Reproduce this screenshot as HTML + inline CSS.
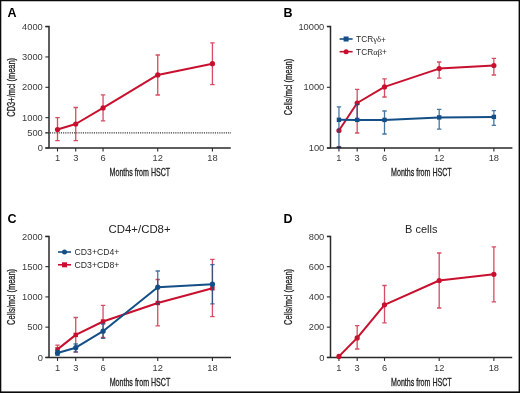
<!DOCTYPE html>
<html><head><meta charset="utf-8"><style>
html,body{margin:0;padding:0;background:#fff;}
svg{display:block;will-change:transform;}
text{font-family:"Liberation Sans",sans-serif;fill:#222;}
.pl{font-size:12.5px;font-weight:bold;fill:#000;}
.tk{font-size:9.3px;fill:#3a3a3a;}
.ttl{font-size:10.4px;stroke:#222;stroke-width:0.3px;}
.lg{font-size:8.7px;fill:#2a2a2a;}
.lg2{font-size:8.3px;fill:#2a2a2a;}
.gk{font-family:"Liberation Serif",serif;font-size:8.6px;}
.ct{font-size:11px;}
</style></head><body>
<svg width="520" height="393" viewBox="0 0 520 393">
<rect x="0" y="0" width="520" height="393" fill="#fff"/>
<rect x="0" y="0" width="1.3" height="393" fill="#0a0a0a"/>
<rect x="0" y="0" width="520" height="1.25" fill="#0a0a0a"/>
<rect x="518.6" y="0" width="1.4" height="393" fill="#0a0a0a"/>
<rect x="0" y="391.4" width="520" height="1.6" fill="#0a0a0a"/>
<text x="7.5" y="16.8" class="pl">A</text>
<path d="M45.4,26.6 H49.0 V148.0 M45.4,148.0 H230.8" fill="none" stroke="#2a2a2a" stroke-width="1.5"/>
<line x1="45.4" y1="26.6" x2="49.0" y2="26.6" stroke="#2a2a2a" stroke-width="1.1"/>
<text x="42.8" y="29.70" text-anchor="end" class="tk">4000</text>
<line x1="45.4" y1="56.95" x2="49.0" y2="56.95" stroke="#2a2a2a" stroke-width="1.1"/>
<text x="42.8" y="60.05" text-anchor="end" class="tk">3000</text>
<line x1="45.4" y1="87.3" x2="49.0" y2="87.3" stroke="#2a2a2a" stroke-width="1.1"/>
<text x="42.8" y="90.40" text-anchor="end" class="tk">2000</text>
<line x1="45.4" y1="117.65" x2="49.0" y2="117.65" stroke="#2a2a2a" stroke-width="1.1"/>
<text x="42.8" y="120.75" text-anchor="end" class="tk">1000</text>
<line x1="45.4" y1="132.82" x2="49.0" y2="132.82" stroke="#2a2a2a" stroke-width="1.1"/>
<text x="42.8" y="135.92" text-anchor="end" class="tk">500</text>
<line x1="45.4" y1="148.0" x2="49.0" y2="148.0" stroke="#2a2a2a" stroke-width="1.1"/>
<text x="42.8" y="151.10" text-anchor="end" class="tk">0</text>
<line x1="57.50" y1="148.0" x2="57.50" y2="151.5" stroke="#2a2a2a" stroke-width="1.1"/>
<text x="57.50" y="161.30" text-anchor="middle" class="tk">1</text>
<line x1="75.73" y1="148.0" x2="75.73" y2="151.5" stroke="#2a2a2a" stroke-width="1.1"/>
<text x="75.73" y="161.30" text-anchor="middle" class="tk">3</text>
<line x1="103.06" y1="148.0" x2="103.06" y2="151.5" stroke="#2a2a2a" stroke-width="1.1"/>
<text x="103.06" y="161.30" text-anchor="middle" class="tk">6</text>
<line x1="157.74" y1="148.0" x2="157.74" y2="151.5" stroke="#2a2a2a" stroke-width="1.1"/>
<text x="157.74" y="161.30" text-anchor="middle" class="tk">12</text>
<line x1="212.42" y1="148.0" x2="212.42" y2="151.5" stroke="#2a2a2a" stroke-width="1.1"/>
<text x="212.42" y="161.30" text-anchor="middle" class="tk">18</text>
<text x="109.6" y="175.6" textLength="60.6" lengthAdjust="spacingAndGlyphs" class="ttl">Months from HSCT</text>
<line x1="45.5" y1="132.8" x2="231" y2="132.8" stroke="#333" stroke-width="1.2" stroke-dasharray="1.1 1.1"/>
<text transform="translate(15.1,87.3) rotate(-90)" x="-29.4" y="0" textLength="58.8" lengthAdjust="spacingAndGlyphs" class="ttl">CD3+/mcl (mean)</text>
<path d="M57.50,129.5 V117.7 M55.30,117.7 H59.70" fill="none" stroke="rgba(200,16,46,0.75)" stroke-width="1.3"/>
<path d="M57.50,129.5 V140.7 M55.30,140.7 H59.70" fill="none" stroke="rgba(200,16,46,0.75)" stroke-width="1.3"/>
<path d="M75.73,124 V107.5 M73.53,107.5 H77.93" fill="none" stroke="rgba(200,16,46,0.75)" stroke-width="1.3"/>
<path d="M75.73,124 V140.7 M73.53,140.7 H77.93" fill="none" stroke="rgba(200,16,46,0.75)" stroke-width="1.3"/>
<path d="M103.06,107.9 V94.9 M100.86,94.9 H105.27" fill="none" stroke="rgba(200,16,46,0.75)" stroke-width="1.3"/>
<path d="M103.06,107.9 V120.8 M100.86,120.8 H105.27" fill="none" stroke="rgba(200,16,46,0.75)" stroke-width="1.3"/>
<path d="M157.74,74.9 V55 M155.54,55 H159.94" fill="none" stroke="rgba(200,16,46,0.75)" stroke-width="1.3"/>
<path d="M157.74,74.9 V95 M155.54,95 H159.94" fill="none" stroke="rgba(200,16,46,0.75)" stroke-width="1.3"/>
<path d="M212.42,63.7 V42.8 M210.22,42.8 H214.62" fill="none" stroke="rgba(200,16,46,0.75)" stroke-width="1.3"/>
<path d="M212.42,63.7 V84.6 M210.22,84.6 H214.62" fill="none" stroke="rgba(200,16,46,0.75)" stroke-width="1.3"/>
<path d="M57.50,129.5 L75.73,124 L103.06,107.9 L157.74,74.9 L212.42,63.7" fill="none" stroke="#c8102e" stroke-width="2" stroke-linejoin="round"/>
<circle cx="57.50" cy="129.5" r="2.6" fill="#c8102e"/>
<circle cx="75.73" cy="124" r="2.6" fill="#c8102e"/>
<circle cx="103.06" cy="107.9" r="2.6" fill="#c8102e"/>
<circle cx="157.74" cy="74.9" r="2.6" fill="#c8102e"/>
<circle cx="212.42" cy="63.7" r="2.6" fill="#c8102e"/>
<text x="283.5" y="16.8" class="pl">B</text>
<path d="M326.9,26.6 H330.5 V148.0 M326.9,148.0 H512.4" fill="none" stroke="#2a2a2a" stroke-width="1.5"/>
<line x1="326.9" y1="26.6" x2="330.5" y2="26.6" stroke="#2a2a2a" stroke-width="1.1"/>
<text x="324.3" y="29.70" text-anchor="end" class="tk">10000</text>
<line x1="326.9" y1="87.3" x2="330.5" y2="87.3" stroke="#2a2a2a" stroke-width="1.1"/>
<text x="324.3" y="90.40" text-anchor="end" class="tk">1000</text>
<line x1="326.9" y1="148.0" x2="330.5" y2="148.0" stroke="#2a2a2a" stroke-width="1.1"/>
<text x="324.3" y="151.10" text-anchor="end" class="tk">100</text>
<line x1="338.95" y1="148.0" x2="338.95" y2="151.5" stroke="#2a2a2a" stroke-width="1.1"/>
<text x="338.95" y="161.30" text-anchor="middle" class="tk">1</text>
<line x1="357.18" y1="148.0" x2="357.18" y2="151.5" stroke="#2a2a2a" stroke-width="1.1"/>
<text x="357.18" y="161.30" text-anchor="middle" class="tk">3</text>
<line x1="384.51" y1="148.0" x2="384.51" y2="151.5" stroke="#2a2a2a" stroke-width="1.1"/>
<text x="384.51" y="161.30" text-anchor="middle" class="tk">6</text>
<line x1="439.19" y1="148.0" x2="439.19" y2="151.5" stroke="#2a2a2a" stroke-width="1.1"/>
<text x="439.19" y="161.30" text-anchor="middle" class="tk">12</text>
<line x1="493.87" y1="148.0" x2="493.87" y2="151.5" stroke="#2a2a2a" stroke-width="1.1"/>
<text x="493.87" y="161.30" text-anchor="middle" class="tk">18</text>
<text x="391.1" y="175.6" textLength="60.6" lengthAdjust="spacingAndGlyphs" class="ttl">Months from HSCT</text>
<text transform="translate(292.3,87.0) rotate(-90)" x="-28.2" y="0" textLength="56.5" lengthAdjust="spacingAndGlyphs" class="ttl">Cells/mcl (mean)</text>
<path d="M336.75,146.6 H341.15" fill="none" stroke="rgba(200,16,46,0.75)" stroke-width="1.3"/>
<path d="M357.18,103 V89.4 M354.98,89.4 H359.38" fill="none" stroke="rgba(200,16,46,0.75)" stroke-width="1.3"/>
<path d="M357.18,103 V133 M354.98,133 H359.38" fill="none" stroke="rgba(200,16,46,0.75)" stroke-width="1.3"/>
<path d="M384.51,86.9 V78.8 M382.31,78.8 H386.71" fill="none" stroke="rgba(200,16,46,0.75)" stroke-width="1.3"/>
<path d="M384.51,86.9 V97 M382.31,97 H386.71" fill="none" stroke="rgba(200,16,46,0.75)" stroke-width="1.3"/>
<path d="M439.19,68.6 V62 M436.99,62 H441.39" fill="none" stroke="rgba(200,16,46,0.75)" stroke-width="1.3"/>
<path d="M439.19,68.6 V78.2 M436.99,78.2 H441.39" fill="none" stroke="rgba(200,16,46,0.75)" stroke-width="1.3"/>
<path d="M493.87,65.5 V58.4 M491.67,58.4 H496.07" fill="none" stroke="rgba(200,16,46,0.75)" stroke-width="1.3"/>
<path d="M493.87,65.5 V75 M491.67,75 H496.07" fill="none" stroke="rgba(200,16,46,0.75)" stroke-width="1.3"/>
<path d="M338.95,130.5 L357.18,103 L384.51,86.9 L439.19,68.6 L493.87,65.5" fill="none" stroke="#c8102e" stroke-width="2" stroke-linejoin="round"/>
<circle cx="338.95" cy="130.5" r="2.6" fill="#c8102e"/>
<circle cx="357.18" cy="103" r="2.6" fill="#c8102e"/>
<circle cx="384.51" cy="86.9" r="2.6" fill="#c8102e"/>
<circle cx="439.19" cy="68.6" r="2.6" fill="#c8102e"/>
<circle cx="493.87" cy="65.5" r="2.6" fill="#c8102e"/>
<path d="M338.95,119.8 V106.9 M336.75,106.9 H341.15" fill="none" stroke="rgba(19,79,134,0.78)" stroke-width="1.3"/>
<path d="M338.95,119.8 V147.4 M336.75,147.4 H341.15" fill="none" stroke="rgba(19,79,134,0.78)" stroke-width="1.3"/>
<path d="M357.18,119.9 V104.3 M354.98,104.3 H359.38" fill="none" stroke="rgba(19,79,134,0.78)" stroke-width="1.3"/>
<path d="M384.51,119.9 V111 M382.31,111 H386.71" fill="none" stroke="rgba(19,79,134,0.78)" stroke-width="1.3"/>
<path d="M384.51,119.9 V134 M382.31,134 H386.71" fill="none" stroke="rgba(19,79,134,0.78)" stroke-width="1.3"/>
<path d="M439.19,117.4 V109.3 M436.99,109.3 H441.39" fill="none" stroke="rgba(19,79,134,0.78)" stroke-width="1.3"/>
<path d="M439.19,117.4 V129.1 M436.99,129.1 H441.39" fill="none" stroke="rgba(19,79,134,0.78)" stroke-width="1.3"/>
<path d="M493.87,116.9 V110.6 M491.67,110.6 H496.07" fill="none" stroke="rgba(19,79,134,0.78)" stroke-width="1.3"/>
<path d="M493.87,116.9 V125.3 M491.67,125.3 H496.07" fill="none" stroke="rgba(19,79,134,0.78)" stroke-width="1.3"/>
<path d="M338.95,119.8 L357.18,119.9 L384.51,119.9 L439.19,117.4 L493.87,116.9" fill="none" stroke="#134f86" stroke-width="2" stroke-linejoin="round"/>
<rect x="336.75" y="117.60" width="4.4" height="4.4" fill="#134f86"/>
<rect x="354.98" y="117.70" width="4.4" height="4.4" fill="#134f86"/>
<rect x="382.31" y="117.70" width="4.4" height="4.4" fill="#134f86"/>
<rect x="436.99" y="115.20" width="4.4" height="4.4" fill="#134f86"/>
<rect x="491.67" y="114.70" width="4.4" height="4.4" fill="#134f86"/>
<line x1="336.75" y1="147.4" x2="341.15" y2="147.4" stroke="#102a48" stroke-width="1.3"/>
<line x1="339.6" y1="39" x2="352.6" y2="39" stroke="#134f86" stroke-width="1.6"/>
<rect x="343.6" y="36.5" width="5" height="5" fill="#134f86"/>
<text x="356.1" y="42" class="lg2">TCR<tspan class="gk">γδ</tspan><tspan dy="0.6">+</tspan></text>
<line x1="339.6" y1="51.7" x2="352.6" y2="51.7" stroke="#c8102e" stroke-width="1.6"/>
<circle cx="346.1" cy="51.7" r="2.5" fill="#c8102e"/>
<text x="356.1" y="54.7" class="lg2">TCR<tspan class="gk">αβ</tspan><tspan dy="0.6">+</tspan></text>
<text x="7.5" y="222.5" class="pl">C</text>
<path d="M45.4,236.4 H49.0 V357.4 M45.4,357.4 H231" fill="none" stroke="#2a2a2a" stroke-width="1.5"/>
<line x1="45.4" y1="236.4" x2="49.0" y2="236.4" stroke="#2a2a2a" stroke-width="1.1"/>
<text x="42.8" y="239.50" text-anchor="end" class="tk">2000</text>
<line x1="45.4" y1="266.65" x2="49.0" y2="266.65" stroke="#2a2a2a" stroke-width="1.1"/>
<text x="42.8" y="269.75" text-anchor="end" class="tk">1500</text>
<line x1="45.4" y1="296.9" x2="49.0" y2="296.9" stroke="#2a2a2a" stroke-width="1.1"/>
<text x="42.8" y="300.00" text-anchor="end" class="tk">1000</text>
<line x1="45.4" y1="327.15" x2="49.0" y2="327.15" stroke="#2a2a2a" stroke-width="1.1"/>
<text x="42.8" y="330.25" text-anchor="end" class="tk">500</text>
<line x1="45.4" y1="357.4" x2="49.0" y2="357.4" stroke="#2a2a2a" stroke-width="1.1"/>
<text x="42.8" y="360.50" text-anchor="end" class="tk">0</text>
<line x1="57.50" y1="357.4" x2="57.50" y2="360.9" stroke="#2a2a2a" stroke-width="1.1"/>
<text x="57.50" y="371.10" text-anchor="middle" class="tk">1</text>
<line x1="75.73" y1="357.4" x2="75.73" y2="360.9" stroke="#2a2a2a" stroke-width="1.1"/>
<text x="75.73" y="371.10" text-anchor="middle" class="tk">3</text>
<line x1="103.06" y1="357.4" x2="103.06" y2="360.9" stroke="#2a2a2a" stroke-width="1.1"/>
<text x="103.06" y="371.10" text-anchor="middle" class="tk">6</text>
<line x1="157.74" y1="357.4" x2="157.74" y2="360.9" stroke="#2a2a2a" stroke-width="1.1"/>
<text x="157.74" y="371.10" text-anchor="middle" class="tk">12</text>
<line x1="212.42" y1="357.4" x2="212.42" y2="360.9" stroke="#2a2a2a" stroke-width="1.1"/>
<text x="212.42" y="371.10" text-anchor="middle" class="tk">18</text>
<text x="109.7" y="385.7" textLength="60.6" lengthAdjust="spacingAndGlyphs" class="ttl">Months from HSCT</text>
<text transform="translate(15.1,296.9) rotate(-90)" x="-28.0" y="0" textLength="56.0" lengthAdjust="spacingAndGlyphs" class="ttl">Cells/mcl (mean)</text>
<text x="139.6" y="232.8" text-anchor="middle" textLength="62.0" lengthAdjust="spacingAndGlyphs" class="ct">CD4+/CD8+</text>
<path d="M57.50,349.4 V345.2 M55.30,345.2 H59.70" fill="none" stroke="rgba(200,16,46,0.75)" stroke-width="1.3"/>
<path d="M57.50,349.4 V352.5 M55.30,352.5 H59.70" fill="none" stroke="rgba(200,16,46,0.75)" stroke-width="1.3"/>
<path d="M75.73,334.9 V317.5 M73.53,317.5 H77.93" fill="none" stroke="rgba(200,16,46,0.75)" stroke-width="1.3"/>
<path d="M75.73,334.9 V352.2 M73.53,352.2 H77.93" fill="none" stroke="rgba(200,16,46,0.75)" stroke-width="1.3"/>
<path d="M103.06,321.5 V305.4 M100.86,305.4 H105.27" fill="none" stroke="rgba(200,16,46,0.75)" stroke-width="1.3"/>
<path d="M103.06,321.5 V337.5 M100.86,337.5 H105.27" fill="none" stroke="rgba(200,16,46,0.75)" stroke-width="1.3"/>
<path d="M157.74,303 V279.5 M155.54,279.5 H159.94" fill="none" stroke="rgba(200,16,46,0.75)" stroke-width="1.3"/>
<path d="M157.74,303 V325.8 M155.54,325.8 H159.94" fill="none" stroke="rgba(200,16,46,0.75)" stroke-width="1.3"/>
<path d="M212.42,288.3 V259.4 M210.22,259.4 H214.62" fill="none" stroke="rgba(200,16,46,0.75)" stroke-width="1.3"/>
<path d="M212.42,288.3 V316.7 M210.22,316.7 H214.62" fill="none" stroke="rgba(200,16,46,0.75)" stroke-width="1.3"/>
<path d="M57.50,349.4 L75.73,334.9 L103.06,321.5 L157.74,303 L212.42,288.3" fill="none" stroke="#c8102e" stroke-width="2" stroke-linejoin="round"/>
<rect x="55.30" y="347.20" width="4.4" height="4.4" fill="#c8102e"/>
<rect x="73.53" y="332.70" width="4.4" height="4.4" fill="#c8102e"/>
<rect x="100.86" y="319.30" width="4.4" height="4.4" fill="#c8102e"/>
<rect x="155.54" y="300.80" width="4.4" height="4.4" fill="#c8102e"/>
<rect x="210.22" y="286.10" width="4.4" height="4.4" fill="#c8102e"/>
<path d="M57.50,353 V350.5 M55.30,350.5 H59.70" fill="none" stroke="rgba(19,79,134,0.78)" stroke-width="1.3"/>
<path d="M57.50,353 V355.4 M55.30,355.4 H59.70" fill="none" stroke="rgba(19,79,134,0.78)" stroke-width="1.3"/>
<path d="M75.73,347.7 V344 M73.53,344 H77.93" fill="none" stroke="rgba(19,79,134,0.78)" stroke-width="1.3"/>
<path d="M75.73,347.7 V351.8 M73.53,351.8 H77.93" fill="none" stroke="rgba(19,79,134,0.78)" stroke-width="1.3"/>
<path d="M103.06,331.2 V324 M100.86,324 H105.27" fill="none" stroke="rgba(19,79,134,0.78)" stroke-width="1.3"/>
<path d="M103.06,331.2 V338.3 M100.86,338.3 H105.27" fill="none" stroke="rgba(19,79,134,0.78)" stroke-width="1.3"/>
<path d="M157.74,287.2 V271 M155.54,271 H159.94" fill="none" stroke="rgba(19,79,134,0.78)" stroke-width="1.3"/>
<path d="M157.74,287.2 V303.8 M155.54,303.8 H159.94" fill="none" stroke="rgba(19,79,134,0.78)" stroke-width="1.3"/>
<path d="M212.42,284.2 V264.6 M210.22,264.6 H214.62" fill="none" stroke="rgba(19,79,134,0.78)" stroke-width="1.3"/>
<path d="M212.42,284.2 V303.8 M210.22,303.8 H214.62" fill="none" stroke="rgba(19,79,134,0.78)" stroke-width="1.3"/>
<path d="M57.50,353 L75.73,347.7 L103.06,331.2 L157.74,287.2 L212.42,284.2" fill="none" stroke="#134f86" stroke-width="2" stroke-linejoin="round"/>
<circle cx="57.50" cy="353" r="2.6" fill="#134f86"/>
<circle cx="75.73" cy="347.7" r="2.6" fill="#134f86"/>
<circle cx="103.06" cy="331.2" r="2.6" fill="#134f86"/>
<circle cx="157.74" cy="287.2" r="2.6" fill="#134f86"/>
<circle cx="212.42" cy="284.2" r="2.6" fill="#134f86"/>
<line x1="58" y1="252" x2="71" y2="252" stroke="#134f86" stroke-width="1.6"/>
<circle cx="64.5" cy="252" r="2.5" fill="#134f86"/>
<text x="74.5" y="255" class="lg">CD3+CD4+</text>
<line x1="58" y1="264.8" x2="71" y2="264.8" stroke="#c8102e" stroke-width="1.6"/>
<rect x="62" y="262.3" width="5" height="5" fill="#c8102e"/>
<text x="74.5" y="267.8" class="lg">CD3+CD8+</text>
<text x="283.5" y="222.5" class="pl">D</text>
<path d="M326.9,236.4 H330.5 V357.4 M326.9,357.4 H512.2" fill="none" stroke="#2a2a2a" stroke-width="1.5"/>
<line x1="326.9" y1="236.4" x2="330.5" y2="236.4" stroke="#2a2a2a" stroke-width="1.1"/>
<text x="324.3" y="239.50" text-anchor="end" class="tk">800</text>
<line x1="326.9" y1="266.65" x2="330.5" y2="266.65" stroke="#2a2a2a" stroke-width="1.1"/>
<text x="324.3" y="269.75" text-anchor="end" class="tk">600</text>
<line x1="326.9" y1="296.9" x2="330.5" y2="296.9" stroke="#2a2a2a" stroke-width="1.1"/>
<text x="324.3" y="300.00" text-anchor="end" class="tk">400</text>
<line x1="326.9" y1="327.15" x2="330.5" y2="327.15" stroke="#2a2a2a" stroke-width="1.1"/>
<text x="324.3" y="330.25" text-anchor="end" class="tk">200</text>
<line x1="326.9" y1="357.4" x2="330.5" y2="357.4" stroke="#2a2a2a" stroke-width="1.1"/>
<text x="324.3" y="360.50" text-anchor="end" class="tk">0</text>
<line x1="338.95" y1="357.4" x2="338.95" y2="360.9" stroke="#2a2a2a" stroke-width="1.1"/>
<text x="338.95" y="371.10" text-anchor="middle" class="tk">1</text>
<line x1="357.18" y1="357.4" x2="357.18" y2="360.9" stroke="#2a2a2a" stroke-width="1.1"/>
<text x="357.18" y="371.10" text-anchor="middle" class="tk">3</text>
<line x1="384.51" y1="357.4" x2="384.51" y2="360.9" stroke="#2a2a2a" stroke-width="1.1"/>
<text x="384.51" y="371.10" text-anchor="middle" class="tk">6</text>
<line x1="439.19" y1="357.4" x2="439.19" y2="360.9" stroke="#2a2a2a" stroke-width="1.1"/>
<text x="439.19" y="371.10" text-anchor="middle" class="tk">12</text>
<line x1="493.87" y1="357.4" x2="493.87" y2="360.9" stroke="#2a2a2a" stroke-width="1.1"/>
<text x="493.87" y="371.10" text-anchor="middle" class="tk">18</text>
<text x="391.1" y="385.7" textLength="60.6" lengthAdjust="spacingAndGlyphs" class="ttl">Months from HSCT</text>
<text transform="translate(292.3,296.9) rotate(-90)" x="-28.0" y="0" textLength="56.0" lengthAdjust="spacingAndGlyphs" class="ttl">Cells/mcl (mean)</text>
<text x="421.2" y="232.6" text-anchor="middle" class="ct">B cells</text>
<path d="M357.18,337.9 V325.6 M354.98,325.6 H359.38" fill="none" stroke="rgba(200,16,46,0.75)" stroke-width="1.3"/>
<path d="M357.18,337.9 V349 M354.98,349 H359.38" fill="none" stroke="rgba(200,16,46,0.75)" stroke-width="1.3"/>
<path d="M384.51,304.8 V285.5 M382.31,285.5 H386.71" fill="none" stroke="rgba(200,16,46,0.75)" stroke-width="1.3"/>
<path d="M384.51,304.8 V322.9 M382.31,322.9 H386.71" fill="none" stroke="rgba(200,16,46,0.75)" stroke-width="1.3"/>
<path d="M439.19,280.5 V253 M436.99,253 H441.39" fill="none" stroke="rgba(200,16,46,0.75)" stroke-width="1.3"/>
<path d="M439.19,280.5 V308 M436.99,308 H441.39" fill="none" stroke="rgba(200,16,46,0.75)" stroke-width="1.3"/>
<path d="M493.87,274.3 V246.8 M491.67,246.8 H496.07" fill="none" stroke="rgba(200,16,46,0.75)" stroke-width="1.3"/>
<path d="M493.87,274.3 V301.8 M491.67,301.8 H496.07" fill="none" stroke="rgba(200,16,46,0.75)" stroke-width="1.3"/>
<path d="M338.95,356.4 L357.18,337.9 L384.51,304.8 L439.19,280.5 L493.87,274.3" fill="none" stroke="#c8102e" stroke-width="2" stroke-linejoin="round"/>
<circle cx="338.95" cy="356.4" r="2.6" fill="#c8102e"/>
<circle cx="357.18" cy="337.9" r="2.6" fill="#c8102e"/>
<circle cx="384.51" cy="304.8" r="2.6" fill="#c8102e"/>
<circle cx="439.19" cy="280.5" r="2.6" fill="#c8102e"/>
<circle cx="493.87" cy="274.3" r="2.6" fill="#c8102e"/>
</svg>
</body></html>
